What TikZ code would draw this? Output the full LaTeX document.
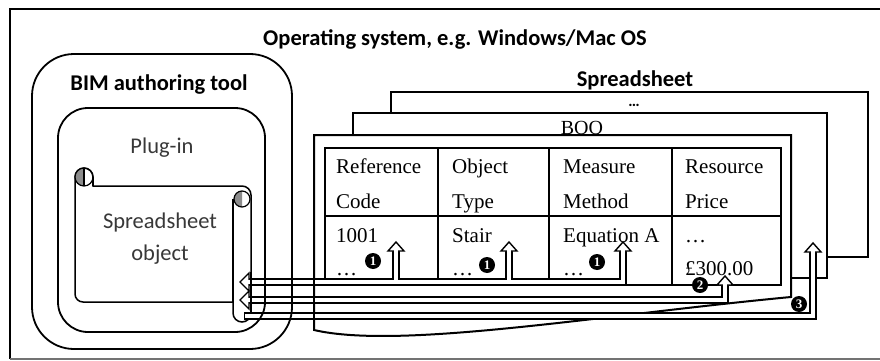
\documentclass[tikz,border=0pt]{standalone}
\usepackage{fontspec}
\setmainfont{Liberation Serif}
\newfontfamily\uisans{Carlito}

\begin{document}
\begin{tikzpicture}[x=1pt, y=-1pt,
    sheet/.style={draw=black, line width=2pt, fill=white},
    roundbox/.style={draw=black, line width=1.8pt, rounded corners=#1},
    boldlabel/.style={font=\uisans\fontsize{22.5}{27}\selectfont\bfseries, inner sep=0pt},
    graylabel/.style={font=\uisans\fontsize{22.5}{27}\selectfont, text=black!78, inner sep=0pt},
    cell/.style={font=\fontsize{21}{25}\selectfont, anchor=base west, inner sep=0pt},
    flowout/.style={line width=7.4pt, black, line join=miter},
    flowin/.style={line width=4.6pt, white, line join=miter},
    flowhead/.style={draw=black, fill=white, line width=1.4pt, line join=miter},
    badge/.style={circle, fill=black, text=white, inner sep=0pt, minimum size=16pt,
        font=\fontsize{13}{13}\selectfont\bfseries}]
    \useasboundingbox (0,0) rectangle (880,361);

    % Operating system frame (its right side runs off the page)
    \draw[line width=2pt] (881,9) -- (10,9) -- (10,359);
    \draw[line width=1.3pt, black!55] (10,359) -- (881,359);
    \node[boldlabel, anchor=base] (os) at (455,46) {Operating system, e.g. Windows/Mac OS};

    % Spreadsheet: back sheet, BOQ sheet, front sheet with wavy bottom
    \draw[sheet] (391,92) rectangle (868,257);
    \node[boldlabel, anchor=base] (xls) at (635,86) {Spreadsheet};
    \node[font=\uisans\fontsize{16}{16}\selectfont\bfseries, anchor=base, inner sep=0pt] (more) at (634,106) {…};
    \draw[sheet] (353,113) rectangle (827,278);
    \node[font=\fontsize{20}{24}\selectfont, anchor=base, inner sep=0pt] (boq) at (582,134) {BOQ};
    \draw[sheet] (314,330) -- (314,135) -- (791,135) -- (791,297)
        .. controls (600,315) and (400,350) .. (314,330) -- cycle;

    % BOQ table
    \draw[line width=1.3pt] (325,148) rectangle (781,285);
    \draw[line width=1.3pt] (325,216) -- (781,216);
    \foreach \x in {438,549,672}
        \draw[line width=1.3pt] (\x,148) -- (\x,285);
    \foreach \x/\a/\b [count=\i] in {336/Reference/Code, 452/Object/Type, 563/Measure/Method, 685/Resource/Price} {
        \node[cell] (hd\i) at (\x,173) {\a};
        \node[cell] (hd\i b) at (\x,208) {\b};
    }
    \foreach \x/\a/\b [count=\i] in {336/1001/…, 452/Stair/…, 563/Equation A/…, 685/…/£300.00} {
        \node[cell] (val\i) at (\x,242) {\a};
        \node[cell] (val\i b) at (\x,275) {\b};
    }

    % Spreadsheet object (scroll)
    \draw[line width=1.5pt, fill=white] (75,177) arc[start angle=180, end angle=360, radius=9]
        -- (93,186) -- (242,186) arc[start angle=270, end angle=360, radius=9]
        [rounded corners=9] -- (251,322) -- (233,322)
        [sharp corners] -- (233,302)
        [rounded corners=8] -- (75,302) -- (75,177);
    \fill[black!45] (84,177) -- (84,168) arc[start angle=270, end angle=180, radius=9]
        arc[start angle=180, end angle=90, radius=9] -- cycle;
    \draw[line width=1.2pt] (84,177) circle[radius=9];
    \draw[line width=1.2pt] (84,168) -- (84,186) (93,177) -- (93,186);
    \fill[black!45] (242,199) -- (242,191) arc[start angle=270, end angle=90, radius=8] -- cycle;
    \draw[line width=1.2pt] (242,199) circle[radius=8];
    \draw[line width=1.5pt] (233,199) -- (233,302);
    \node[graylabel, anchor=base] (obj) at (160,228) {Spreadsheet};
    \node[graylabel, anchor=base] (objb) at (160,260) {object};

    % arrow ends
    \coordinate (s1) at (249,282);
    \coordinate (s2) at (249,300);
    \coordinate (s3) at (244,316);
    \coordinate (c1) at (396,251);
    \coordinate (c2) at (509,251);
    \coordinate (c3) at (623,251);
    \coordinate (c4) at (725,285);
    \coordinate (c5) at (813,252);

    % hollow arrows: black outline first
    \draw[flowout] (s1) -- (c3 |- s1) -- (c3);
    \draw[flowout] (c1 |- s1) -- (c1);
    \draw[flowout] (c2 |- s1) -- (c2);
    \draw[flowout] (s2) -- (c4 |- s2) -- (c4);
    \draw[flowout] (s3) -- (c5 |- s3) -- (c5);
    % arrow heads
    \draw[flowhead] (s1) ++(0,-9) -- ++(-9,9) -- ++(9,9) -- cycle;
    \draw[flowhead] (s2) ++(0,-9) -- ++(-9,9) -- ++(9,9) -- cycle;
    \foreach \c in {c1,c2,c3,c4,c5}
        \draw[flowhead] (\c) ++(-8,0) -- ++(8,-9) -- ++(8,9) -- cycle;
    % then the white inside
    \draw[flowin] ([xshift=-1.5pt]s1) -- (c3 |- s1) -- ([yshift=1.5pt]c3);
    \draw[flowin] (c1 |- s1) -- ([yshift=1.5pt]c1);
    \draw[flowin] (c2 |- s1) -- ([yshift=1.5pt]c2);
    \draw[flowin] ([xshift=-1.5pt]s2) -- (c4 |- s2) -- ([yshift=1.5pt]c4);
    \draw[flowin] ([xshift=1.3pt]s3) -- (c5 |- s3) -- ([yshift=1.5pt]c5);

    % numbers on the arrows
    \node[badge] (n1) at (373,261) {1};
    \node[badge] (n2) at (487,265) {1};
    \node[badge] (n3) at (597,262) {1};
    \node[badge] (n4) at (700,285) {2};
    \node[badge] (n5) at (799,304) {3};

    % edges that show through the arrows
    \draw[line width=2pt] (314,272) -- (314,326);
    \draw[line width=1.5pt] (251,272) -- (251,313);

    % BIM authoring tool and plug-in
    \draw[roundbox=42] (32,54) rectangle (292,349);
    \node[boldlabel, anchor=base] (bim) at (159,90) {BIM authoring tool};
    \draw[roundbox=30] (58,108) rectangle (265,332);
    \node[graylabel, anchor=base] (plug) at (162,153) {Plug-in};
\end{tikzpicture}
\end{document}
